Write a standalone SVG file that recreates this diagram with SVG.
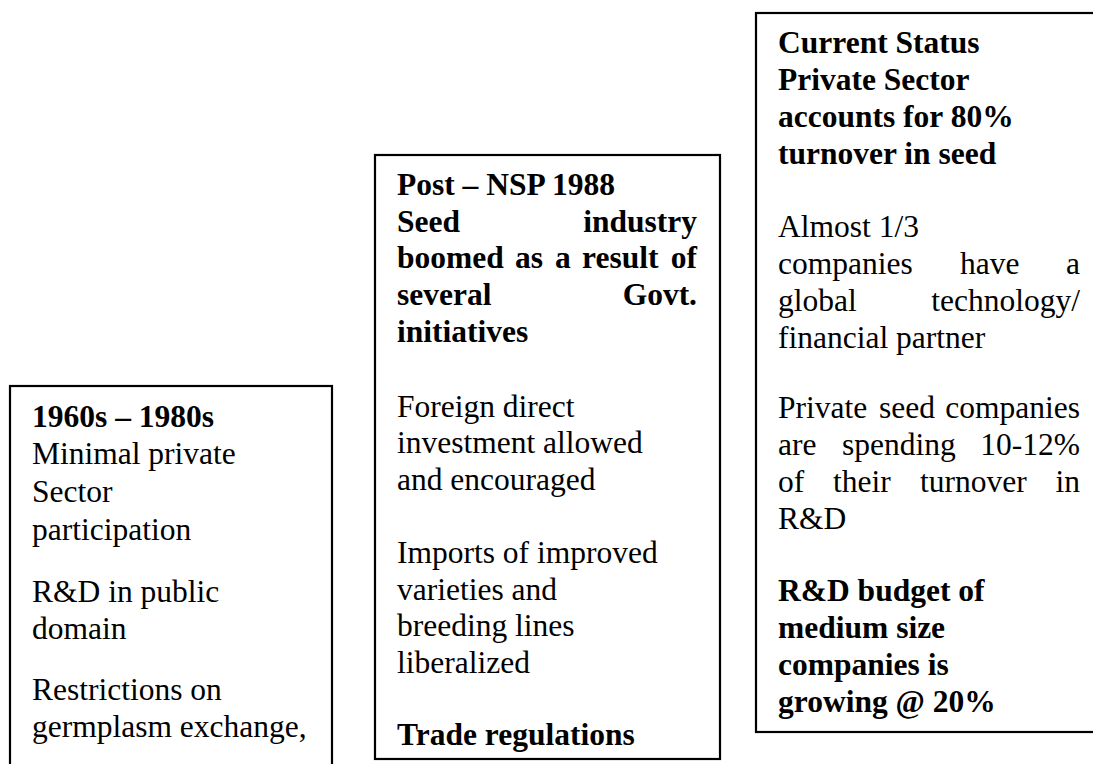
<svg xmlns="http://www.w3.org/2000/svg" width="1093" height="764" viewBox="0 0 1093 764">
  <style>
    .box { fill: #ffffff; stroke: #000000; stroke-width: 2.2; }
    text { font-family: "Liberation Serif", "Times New Roman", serif; font-size: 31.5px; fill: #000000; }
    .b { font-weight: bold; }
    .r { text-anchor: end; }
  </style>
  <rect width="1093" height="764" fill="#ffffff"/>

  <!-- 1960s – 1980s (box runs off the bottom edge) -->
  <g id="era-1960s-1980s">
    <rect class="box" x="10" y="386" width="322" height="400"/>
    <text class="b" x="32" y="427">1960s – 1980s</text>
    <text x="32" y="464">Minimal private</text>
    <text x="32" y="502">Sector</text>
    <text x="32" y="540">participation</text>
    <text x="32" y="602">R&amp;D in public</text>
    <text x="32" y="639">domain</text>
    <text x="32" y="700">Restrictions on</text>
    <text x="32" y="737">germplasm exchange,</text>
  </g>

  <!-- Post – NSP 1988 -->
  <g id="era-post-nsp-1988">
    <rect class="box" x="375" y="155" width="345" height="604"/>
    <text class="b" x="397" y="195">Post – NSP 1988</text>
    <text class="b" x="397" y="232">Seed</text>
    <text class="b r" x="697" y="232">industry</text>
    <text class="b" x="397" y="268">boomed</text>
    <text class="b" x="515" y="268">as</text>
    <text class="b" x="555" y="268">a</text>
    <text class="b" x="582" y="268">result</text>
    <text class="b r" x="697" y="268">of</text>
    <text class="b" x="397" y="305">several</text>
    <text class="b r" x="697" y="305">Govt.</text>
    <text class="b" x="397" y="342">initiatives</text>
    <text x="397" y="417">Foreign direct</text>
    <text x="397" y="453">investment allowed</text>
    <text x="397" y="490">and encouraged</text>
    <text x="397" y="563">Imports of improved</text>
    <text x="397" y="600">varieties and</text>
    <text x="397" y="636">breeding lines</text>
    <text x="397" y="673">liberalized</text>
    <text class="b" x="397" y="745">Trade regulations</text>
  </g>

  <!-- Current status (box runs off the right edge) -->
  <g id="era-current-status">
    <rect class="box" x="756" y="13" width="360" height="719"/>
    <text class="b" x="778" y="53">Current Status</text>
    <text class="b" x="778" y="90">Private Sector</text>
    <text class="b" x="778" y="127">accounts for 80%</text>
    <text class="b" x="778" y="164">turnover in seed</text>
    <text x="778" y="237">Almost 1/3</text>
    <text x="778" y="274">companies</text>
    <text x="960" y="274">have</text>
    <text class="r" x="1080" y="274">a</text>
    <text x="778" y="311">global</text>
    <text class="r" x="1080" y="311">technology/</text>
    <text x="778" y="348">financial partner</text>
    <text x="778" y="418">Private</text>
    <text x="879" y="418">seed</text>
    <text class="r" x="1080" y="418">companies</text>
    <text x="778" y="455">are</text>
    <text x="842" y="455">spending</text>
    <text class="r" x="1080" y="455">10-12%</text>
    <text x="778" y="492">of</text>
    <text x="833" y="492">their</text>
    <text x="920" y="492">turnover</text>
    <text class="r" x="1080" y="492">in</text>
    <text x="778" y="529">R&amp;D</text>
    <text class="b" x="778" y="601">R&amp;D budget of</text>
    <text class="b" x="778" y="638">medium size</text>
    <text class="b" x="778" y="675">companies is</text>
    <text class="b" x="778" y="712">growing @ 20%</text>
  </g>

  <g id="connectors"/>
</svg>
